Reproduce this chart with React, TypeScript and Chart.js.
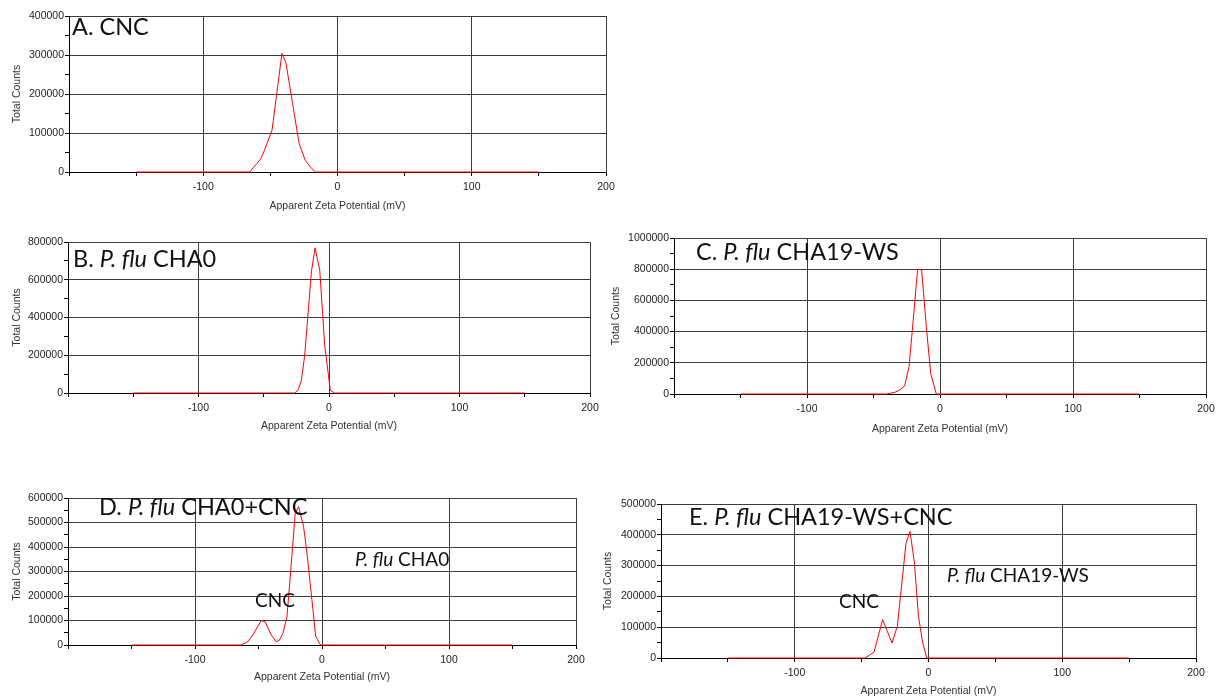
import React, { useEffect, useRef } from "react";
import { Chart, registerables } from "chart.js";

Chart.register(...registerables);

// ---------- Data (zeta potential in mV, total counts) ----------
const zetaA = [-150, -65.5, -57.4, -54.4, -48.8, -47.8, -41.4, -38.4, -33.5, -28.6, -24, -20, -16.3, 150];
const countsA = [0, 0, 32600, 55700, 107000, 133000, 304000, 280000, 176000, 73000, 30000, 12000, 0, 0];

const zetaB = [-150, -26.3, -23.7, -21.2, -18.6, -13.5, -10.7, -7.1, -3.3, 1.0, 4.3, 150];
const countsB = [0, 0, 14000, 67000, 200000, 642000, 769000, 651000, 253000, 14000, 0, 0];

const zetaC = [-150, -40.3, -34, -30.3, -26.6, -23.3, -20.8, -16.8, -13.8, -10.3, -7.0, -2.8, 150];
const countsC = [0, 0, 10700, 25600, 51300, 175000, 410000, 801000, 795000, 432000, 132000, 0, 0];

const zetaD = [-150, -63.7, -58.4, -54.5, -47.9, -44.7, -40, -36.1, -33.4, -30.8, -27.6, -25, -21.1, -18.4, -14.5, -11.8, -7.1, -5, -1.8, -0.5, 150];
const countsD = [0, 0, 13600, 40800, 99300, 95000, 40800, 13600, 20400, 47600, 115600, 279000, 537000, 565000, 483000, 374000, 143000, 36700, 4000, 0, 0];

const zetaE = [-150, -47.5, -40.8, -34.3, -27.3, -23.3, -16.8, -13.8, -10.5, -7.5, -4.3, -1.3, 150];
const countsE = [0, 0, 18400, 124500, 48700, 102800, 373000, 411000, 308000, 135000, 48700, 0, 0];

const xMin = -200;
const xMax = 200;
const xStep = 50;
const xLabelEvery = 100;

const xTitle = "Apparent Zeta Potential (mV)";
const yTitle = "Total Counts";

type Seg = { text: string; italic?: boolean };
type Label = { dx: number; dy: number; size: number; parts: Seg[] };

type PanelCfg = {
  plot: { l: number; t: number; r: number; b: number };
  yTitleX: number;
  xTitleY: number;
  yMax: number;
  yStep: number;
  yLabelEvery: number;
  zeta: number[];
  counts: number[];
  labels: Label[];
};

const panels: PanelCfg[] = [
  {
    plot: { l: 69, t: 16, r: 606, b: 172 },
    yTitleX: 17,
    xTitleY: 206,
    yMax: 400000,
    yStep: 50000,
    yLabelEvery: 100000,
    zeta: zetaA,
    counts: countsA,
    labels: [{ dx: 3, dy: 19, size: 23.5, parts: [{ text: "A. CNC" }] }],
  },
  {
    plot: { l: 68, t: 242, r: 590, b: 393 },
    yTitleX: 17,
    xTitleY: 426,
    yMax: 800000,
    yStep: 100000,
    yLabelEvery: 200000,
    zeta: zetaB,
    counts: countsB,
    labels: [
      { dx: 5, dy: 25, size: 23.5, parts: [{ text: "B. " }, { text: "P. flu", italic: true }, { text: " CHA0" }] },
    ],
  },
  {
    plot: { l: 674, t: 238, r: 1206, b: 394 },
    yTitleX: 616,
    xTitleY: 429,
    yMax: 1000000,
    yStep: 100000,
    yLabelEvery: 200000,
    zeta: zetaC,
    counts: countsC,
    labels: [
      { dx: 22, dy: 22, size: 23.5, parts: [{ text: "C. " }, { text: "P. flu", italic: true }, { text: " CHA19-WS" }] },
    ],
  },
  {
    plot: { l: 68, t: 498, r: 576, b: 645 },
    yTitleX: 17,
    xTitleY: 677,
    yMax: 600000,
    yStep: 50000,
    yLabelEvery: 100000,
    zeta: zetaD,
    counts: countsD,
    labels: [
      { dx: 31, dy: 17, size: 23.5, parts: [{ text: "D. " }, { text: "P. flu", italic: true }, { text: " CHA0+CNC" }] },
      { dx: 187, dy: 109, size: 19, parts: [{ text: "CNC" }] },
      { dx: 287, dy: 68, size: 19, parts: [{ text: "P. flu", italic: true }, { text: " CHA0" }] },
    ],
  },
  {
    plot: { l: 661, t: 504, r: 1196, b: 658 },
    yTitleX: 608,
    xTitleY: 691,
    yMax: 500000,
    yStep: 50000,
    yLabelEvery: 100000,
    zeta: zetaE,
    counts: countsE,
    labels: [
      { dx: 28, dy: 21, size: 23.5, parts: [{ text: "E. " }, { text: "P. flu", italic: true }, { text: " CHA19-WS+CNC" }] },
      { dx: 178, dy: 104, size: 19, parts: [{ text: "CNC" }] },
      { dx: 286, dy: 78, size: 19, parts: [{ text: "P. flu", italic: true }, { text: " CHA19-WS" }] },
    ],
  },
];

const tickFont = { family: "'Liberation Sans', Arial, sans-serif", size: 10.5 };
const labelFamily = "Lato, 'Open Sans', sans-serif";
const gridColor = "#3c3c3c";
const textColor = "#222";

function Panel({ cfg }: { cfg: PanelCfg }) {
  const ref = useRef<HTMLCanvasElement>(null);
  const { plot } = cfg;
  const canvasLeft = cfg.yTitleX - 10;
  const canvasTop = plot.t - 12;
  const canvasRight = plot.r + 20;
  const canvasBottom = cfg.xTitleY + 10;
  const width = canvasRight - canvasLeft;
  const height = canvasBottom - canvasTop;
  const padL = plot.l - canvasLeft;
  const padB = canvasBottom - plot.b;

  useEffect(() => {
    if (!ref.current) return;
    const labelPlugin = {
      id: "panelLabels",
      afterDatasetsDraw(chart: any) {
        const { ctx, chartArea } = chart;
        ctx.save();
        ctx.fillStyle = "#111";
        ctx.textBaseline = "alphabetic";
        ctx.textAlign = "left";
        for (const l of cfg.labels) {
          let x = chartArea.left + l.dx;
          const y = chartArea.top + l.dy;
          for (const p of l.parts) {
            ctx.font = `${p.italic ? "italic " : ""}${l.size}px ${labelFamily}`;
            ctx.fillText(p.text, x, y);
            x += ctx.measureText(p.text).width;
          }
        }
        ctx.restore();
      },
    };

    const chart = new Chart(ref.current, {
      type: "line",
      data: {
        datasets: [
          {
            data: cfg.zeta.map((z, i) => ({ x: z, y: cfg.counts[i] })),
            borderColor: "#ff0000",
            borderWidth: 1,
            pointRadius: 0,
            tension: 0,
            fill: false,
            clip: false,
          },
        ],
      },
      options: {
        animation: false,
        responsive: false,
        events: [],
        layout: {
          padding: { left: 0, top: plot.t - canvasTop, right: canvasRight - plot.r, bottom: 0 },
        },
        plugins: {
          legend: { display: false },
          tooltip: { enabled: false },
        },
        scales: {
          x: {
            type: "linear",
            min: xMin,
            max: xMax,
            afterFit: (s: any) => {
              s.height = padB;
            },
            ticks: {
              stepSize: xStep,
              autoSkip: false,
              maxRotation: 0,
              padding: 5,
              font: tickFont,
              color: textColor,
              callback: (v: any) => (Number(v) % xLabelEvery === 0 && Number(v) !== xMin ? String(v) : ""),
            },
            grid: {
              color: (c: any) =>
                c.tick && Math.abs(c.tick.value % xLabelEvery) === 0 ? gridColor : "rgba(0,0,0,0)",
              tickColor: "#000",
              tickLength: 4,
              lineWidth: 1,
            },
            border: { color: "#000", width: 1 },
            title: { display: true, text: xTitle, font: tickFont, color: "#333" },
          },
          y: {
            type: "linear",
            min: 0,
            max: cfg.yMax,
            afterFit: (s: any) => {
              s.width = padL;
            },
            ticks: {
              stepSize: cfg.yStep,
              autoSkip: false,
              padding: 1,
              font: tickFont,
              color: textColor,
              callback: (v: any) => (Number(v) % cfg.yLabelEvery === 0 ? String(v) : ""),
            },
            grid: {
              color: (c: any) =>
                c.tick && c.tick.value % cfg.yLabelEvery === 0 ? gridColor : "rgba(0,0,0,0)",
              tickColor: "#000",
              tickLength: 4,
              lineWidth: 1,
            },
            border: { color: "#000", width: 1 },
            title: { display: true, text: yTitle, font: tickFont, color: "#333" },
          },
        },
      } as any,
      plugins: [labelPlugin],
    });
    return () => chart.destroy();
  }, []);

  return (
    <div style={{ position: "absolute", left: canvasLeft, top: canvasTop, width, height }}>
      <canvas ref={ref} width={width} height={height} style={{ display: "block", width, height }} />
    </div>
  );
}

export default function App() {
  return (
    <div
      style={{
        position: "absolute",
        left: 0,
        top: 0,
        width: 1217,
        height: 700,
        overflow: "hidden",
        background: "#fff",
      }}
    >
      {panels.map((p, i) => (
        <Panel key={i} cfg={p} />
      ))}
    </div>
  );
}
